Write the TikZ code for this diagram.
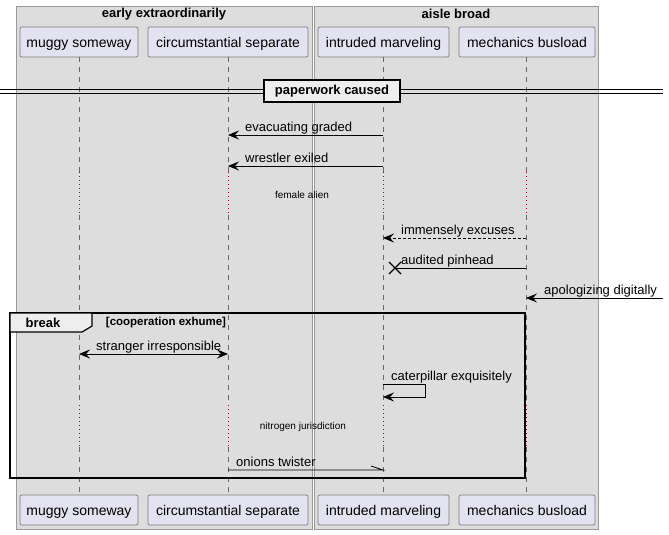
\documentclass[tikz,border=0pt]{standalone}
\usepackage{fontspec}
\setmainfont{Liberation Sans}
\usetikzlibrary{arrows.meta,calc}
\definecolor{boxbg}{HTML}{DDDDDD}
\definecolor{boxline}{HTML}{999999}
\definecolor{partfill}{HTML}{E2E2F0}
\definecolor{partline}{HTML}{7A7A7A}
\definecolor{lifeline}{HTML}{666666}
\definecolor{delayred}{HTML}{A80036}
\definecolor{tabfill}{HTML}{EEEEEE}
\tikzset{
  part/.style={draw=partline, fill=partfill, rounded corners=2pt, minimum height=30pt, inner sep=0pt, text height=11pt, text depth=0pt, font=\fontsize{14}{16}\selectfont, line width=0.7pt},
  lifedash/.style={draw=lifeline, line width=0.6pt, dash pattern=on 5pt off 5pt},
  lifedot/.style={draw=delayred, line width=0.7pt, dash pattern=on 1pt off 3pt},
  msg/.style={draw=black, line width=0.9pt, -{Stealth[length=11pt,width=9pt,inset=4pt]}},
  msglbl/.style={anchor=base west, inner sep=0pt, font=\fontsize{13}{15}\selectfont},
  delaylbl/.style={inner sep=0pt, font=\fontsize{10}{12}\selectfont},
  boxtitle/.style={inner sep=0pt, font=\bfseries\fontsize{13}{15}\selectfont},
}
\begin{document}
\begin{tikzpicture}[x=1pt,y=-1pt]
\useasboundingbox (0,0) rectangle (669,535);
% boxes
\path[fill=boxbg, draw=boxline, line width=0.7pt] (16,6) rectangle (312.5,529.5);
\path[fill=boxbg, draw=boxline, line width=0.7pt] (314.5,6) rectangle (598,529.5);
\node[boxtitle] (t1) at (164,14) {early extraordinarily};
\node[boxtitle] (t2) at (456,14) {aisle broad};
% participants
\node[part, minimum width=118pt] (a) at (79,42) {muggy someway};
\node[part, minimum width=160pt] (b) at (228,42) {circumstantial separate};
\node[part, minimum width=131pt] (c) at (383.5,42) {intruded marveling};
\node[part, minimum width=136pt] (d) at (527,42) {mechanics busload};
\node[part, minimum width=118pt] (a2) at (79,510) {muggy someway};
\node[part, minimum width=160pt] (b2) at (228,510) {circumstantial separate};
\node[part, minimum width=131pt] (c2) at (383.5,510) {intruded marveling};
\node[part, minimum width=136pt] (d2) at (527,510) {mechanics busload};
% lifelines
\foreach \x in {79,228,383,526}{
  \draw[lifedash] (\x,57) -- (\x,172);
  \draw[lifedot] (\x,172) -- (\x,215);
  \draw[lifedash] (\x,215) -- (\x,405);
  \draw[lifedot] (\x,405) -- (\x,447);
  \draw[lifedash] (\x,447) -- (\x,495);
}
% divider
\draw[line width=0.8pt] (0,89) -- (663,89);
\draw[line width=0.8pt] (0,93) -- (663,93);
\node[draw=black, fill=tabfill, line width=1.6pt, minimum width=136pt, minimum height=22pt, inner sep=0pt, font=\bfseries\fontsize{13}{15}\selectfont] (div) at (332,91) {paperwork caused};
% messages
\coordinate (m1s) at (383,135); \coordinate (m1e) at (228,135);
\draw[msg] (m1s) -- (m1e);
\node[msglbl] (l1) at (245,131) {evacuating graded};
\coordinate (m2s) at (383,166); \coordinate (m2e) at (228,166);
\draw[msg] (m2s) -- (m2e);
\node[msglbl] (l2) at (245,162) {wrestler exiled};
\node[delaylbl] (dl1) at (302,195) {female alien};
\coordinate (m3s) at (526,238); \coordinate (m3e) at (383,238);
\draw[msg, dash pattern=on 3pt off 2pt] (m3s) -- (m3e);
\node[msglbl] (l3) at (401,234) {immensely excuses};
\coordinate (m4s) at (526,268); \coordinate (m4e) at (395,268);
\draw[line width=0.9pt] (m4s) -- (m4e);
\draw[line width=1.4pt] ($(m4e)+(-6,-6)$) -- ($(m4e)+(6,6)$) ($(m4e)+(-6,6)$) -- ($(m4e)+(6,-6)$);
\node[msglbl] (l4) at (401,264) {audited pinhead};
\coordinate (m5s) at (663,298); \coordinate (m5e) at (526,298);
\draw[msg] (m5s) -- (m5e);
\node[msglbl] (l5) at (544,294) {apologizing digitally};
% group
\draw[line width=1.5pt] (10,313) rectangle (525,478);
\draw[fill=tabfill, line width=1.2pt] (10,313) -- (92,313) -- (92,326) -- (82,332) -- (10,332) -- cycle;
\node[boxtitle] (g1) at (43,323) {break};
\node[inner sep=0pt, font=\bfseries\fontsize{11.5}{13}\selectfont] (g2) at (166,323) {[cooperation exhume]};
\coordinate (m6s) at (79,354); \coordinate (m6e) at (228,354);
\draw[msg, {Stealth[length=11pt,width=9pt,inset=4pt]}-{Stealth[length=11pt,width=9pt,inset=4pt]}] (m6s) -- (m6e);
\node[msglbl] (l6) at (96,350) {stranger irresponsible};
\coordinate (m7s) at (383,384); \coordinate (m7e) at (383,397);
\draw[msg] (m7s) -- (425,384) -- (425,397) -- (m7e);
\node[msglbl] (l7) at (391,380) {caterpillar exquisitely};
\node[delaylbl] (dl2) at (303,427) {nitrogen jurisdiction};
\coordinate (m8s) at (228,470); \coordinate (m8e) at (383,470);
\draw[line width=0.9pt] (m8s) -- (m8e) -- (371,466);
\node[msglbl] (l8) at (236,466) {onions twister};
\end{tikzpicture}
\end{document}
